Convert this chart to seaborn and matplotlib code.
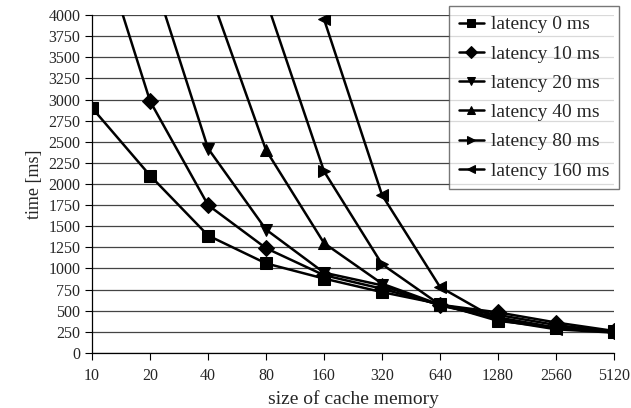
import numpy as np
import pandas as pd
import matplotlib
matplotlib.use("Agg")
import matplotlib.pyplot as plt
import seaborn as sns

# cache sizes (categorical x axis)
sizes = ["10", "20", "40", "80", "160", "320", "640", "1280", "2560", "5120"]

# time [ms] per latency; values above 4000 run off the top of the chart
lat_0 = [2900, 2100, 1390, 1060, 880, 720, 580, 380, 300, 260]
lat_10 = [5150, 2980, 1750, 1240, 920, 760, 570, 480, 360, 260]
lat_20 = [np.nan, 4560, 2420, 1460, 950, 800, 560, 420, 300, 250]
lat_40 = [np.nan, np.nan, 4330, 2400, 1300, 820, 570, 450, 330, 250]
lat_80 = [np.nan, np.nan, np.nan, 4180, 2150, 1050, 570, 400, 290, 250]
lat_160 = [np.nan, np.nan, np.nan, np.nan, 3950, 1870, 780, 390, 280, 240]

series = {
    "latency 0 ms": lat_0,
    "latency 10 ms": lat_10,
    "latency 20 ms": lat_20,
    "latency 40 ms": lat_40,
    "latency 80 ms": lat_80,
    "latency 160 ms": lat_160,
}
markers = {
    "latency 0 ms": "s",
    "latency 10 ms": "D",
    "latency 20 ms": "v",
    "latency 40 ms": "^",
    "latency 80 ms": ">",
    "latency 160 ms": "<",
}

rows = []
for name, vals in series.items():
    for i, v in enumerate(vals):
        rows.append({"size": i, "time": v, "series": name})
df = pd.DataFrame(rows)

sns.set_style("white")
plt.rcParams["font.family"] = ["Liberation Serif", "DejaVu Serif"]

fig = plt.figure(figsize=(6.31, 4.08), dpi=100)
ax = fig.add_axes([0.146, 0.135, 0.827, 0.828])

ax.set_ylim(0, 4000)
ax.set_yticks(np.arange(0, 4001, 250))
ax.grid(axis="y", color="#444444", linewidth=0.9)
ax.set_axisbelow(True)

sns.lineplot(data=df, x="size", y="time", hue="series", style="series",
             palette=["black"] * 6, markers=markers, dashes=False,
             markersize=8, linewidth=1.8, markeredgecolor="black",
             ax=ax, legend=True)

ax.set_xlim(0, len(sizes) - 1)
ax.set_xticks(range(len(sizes)))
ax.set_xticklabels(sizes)
ax.set_xlabel("size of cache memory", fontsize=14)
ax.set_ylabel("time [ms]", fontsize=13)
ax.tick_params(axis="both", labelsize=11.5, direction="out", length=5,
               width=0.8, color="black", left=True, bottom=True)
ax.tick_params(axis="x", pad=6)

for s in ["top", "right"]:
    ax.spines[s].set_visible(False)
for s in ["left", "bottom"]:
    ax.spines[s].set_color("black")
    ax.spines[s].set_linewidth(0.9)

handles, labels = ax.get_legend_handles_labels()
leg = ax.legend(handles, labels, loc="upper left",
                bbox_to_anchor=(449 / 631, 1 - 6 / 408),
                bbox_transform=fig.transFigure, frameon=True, fancybox=False,
                fontsize=14, handlelength=1.3, handletextpad=0.35,
                labelspacing=0.6, borderpad=0.5, borderaxespad=0,
                markerscale=0.8)
leg.get_frame().set_edgecolor("#555555")
leg.get_frame().set_linewidth(1.0)

fig.savefig("out.png", dpi=100)
